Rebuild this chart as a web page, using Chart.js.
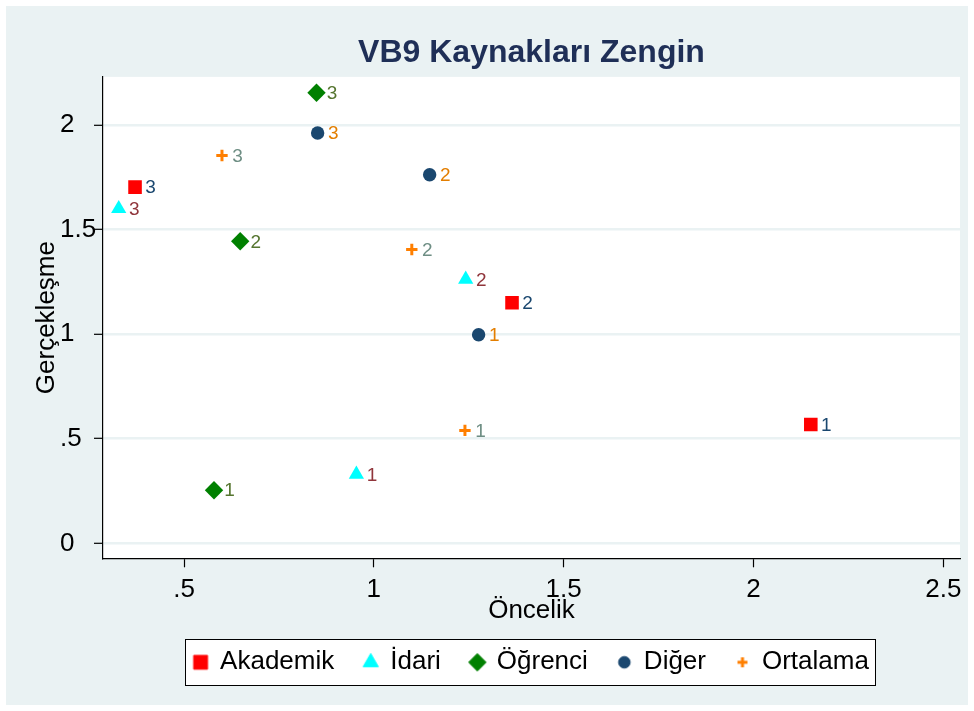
<!DOCTYPE html>
<html>
<head>
<meta charset="utf-8">
<script src="https://cdn.jsdelivr.net/npm/chart.js@4.4.0/dist/chart.umd.min.js"></script>
<style>
    html, body { margin: 0; padding: 0; background: #ffffff; }
    #chart { display: block; }
</style>
</head>
<body>
<canvas id="chart" width="974" height="711"></canvas>
<script>
// values
const groupNames = ["Akademik", "İdari", "Öğrenci", "Diğer", "Ortalama"];
const pointLabels = ["1", "2", "3"];

const akademikX = [2.151, 1.364, 0.371];
const akademikY = [0.568, 1.150, 1.703];
const idariX = [0.954, 1.242, 0.328];
const idariY = [0.330, 1.262, 1.600];
const ogrenciX = [0.579, 0.648, 0.849];
const ogrenciY = [0.254, 1.444, 2.154];
const digerX = [1.276, 1.147, 0.852];
const digerY = [0.997, 1.762, 1.962];
const ortalamaX = [1.240, 1.100, 0.600];
const ortalamaY = [0.540, 1.405, 1.854];

const xTickValues = [0.5, 1, 1.5, 2, 2.5];
const xTickLabels = [".5", "1", "1.5", "2", "2.5"];
const yTickValues = [0, 0.5, 1, 1.5, 2];
const yTickLabels = ["0", ".5", "1", "1.5", "2"];

const FONT = "'Liberation Sans', Arial, Helvetica, sans-serif";
const BG = "#eaf2f3";

const styles = [
    { pointStyle: "rect", color: "#ff0000", label: "#1a476f", radius: 9.6, legendRadius: 9.8, border: 0 },
    { pointStyle: "triangle", color: "#00ffff", label: "#90353b", radius: 8.8, legendRadius: 8.8, border: 0 },
    { pointStyle: "rectRot", color: "#008000", label: "#55752f", radius: 9.2, legendRadius: 8.7, border: 0 },
    { pointStyle: "circle", color: "#1a476f", label: "#e37e00", radius: 6.7, legendRadius: 5.8, border: 0 },
    { pointStyle: "cross", color: "#ff7f00", label: "#6e8e84", radius: 5.7, legendRadius: 5, border: 3 }
];

function toPoints(xs, ys) {
    return xs.map((x, i) => ({ x: x, y: ys[i] }));
}

const seriesData = [
    toPoints(akademikX, akademikY),
    toPoints(idariX, idariY),
    toPoints(ogrenciX, ogrenciY),
    toPoints(digerX, digerY),
    toPoints(ortalamaX, ortalamaY)
];

// small marker pictures for the legend (same chart.js point drawing, other size)
function legendIcon(s) {
    if (!Chart.helpers || !Chart.helpers.drawPoint) return s.pointStyle;
    const size = Math.ceil(2 * s.legendRadius + 6);
    const c = document.createElement("canvas");
    c.width = size;
    c.height = size;
    const cx = c.getContext("2d");
    cx.fillStyle = s.color;
    cx.strokeStyle = s.color;
    cx.lineWidth = s.border || 1;
    Chart.helpers.drawPoint(cx, { pointStyle: s.pointStyle, radius: s.legendRadius, rotation: 0, borderWidth: s.border || 0.01 }, size / 2, size / 2);
    return c;
}

const backgroundPlugin = {
    id: "stataBackground",
    beforeDraw(chart) {
        const ctx = chart.ctx;
        const a = chart.chartArea;
        ctx.save();
        ctx.fillStyle = "#ffffff";
        ctx.fillRect(0, 0, chart.width, chart.height);
        ctx.fillStyle = BG;
        ctx.fillRect(6, 6, chart.width - 12, chart.height - 12);
        ctx.fillStyle = "#ffffff";
        ctx.fillRect(a.left, a.top, a.right - a.left, a.bottom - a.top);
        // frame round the legend
        const boxes = chart.legend && chart.legend.legendHitBoxes;
        if (boxes && boxes.length) {
            const first = boxes[0];
            const last = boxes[boxes.length - 1];
            const cy = first.top + first.height / 2;
            const x0 = first.left - 9;
            const x1 = last.left + last.width + 6;
            ctx.fillRect(x0, cy - 23, x1 - x0, 46);
            ctx.strokeStyle = "#000000";
            ctx.lineWidth = 1;
            ctx.strokeRect(Math.round(x0) + 0.5, Math.round(cy - 23) + 0.5, Math.round(x1 - x0), 46);
        }
        ctx.restore();
    }
};

const pointLabelPlugin = {
    id: "pointLabels",
    afterDatasetsDraw(chart) {
        const ctx = chart.ctx;
        ctx.save();
        ctx.font = "19px " + FONT;
        ctx.textAlign = "left";
        ctx.textBaseline = "middle";
        chart.data.datasets.forEach((ds, d) => {
            const meta = chart.getDatasetMeta(d);
            ctx.fillStyle = styles[d].label;
            meta.data.forEach((el, i) => {
                ctx.fillText(pointLabels[i], el.x + 10.3, el.y + 1);
            });
        });
        ctx.restore();
    }
};

const ctx = document.getElementById("chart").getContext("2d");

new Chart(ctx, {
    type: "scatter",
    data: {
        datasets: groupNames.map((name, d) => ({
            label: name,
            data: seriesData[d],
            pointStyle: styles[d].pointStyle,
            pointRadius: styles[d].radius,
            backgroundColor: styles[d].color,
            borderColor: styles[d].color,
            borderWidth: styles[d].border
        }))
    },
    options: {
        responsive: false,
        animation: false,
        events: [],
        layout: {
            padding: { left: 60, right: 14, top: 6, bottom: 25.7 }
        },
        plugins: {
            tooltip: { enabled: false },
            title: {
                display: true,
                fullSize: false,
                text: "VB9 Kaynakları Zengin",
                color: "#1f2f57",
                font: { family: FONT, size: 32, weight: "bold", lineHeight: 1.2 },
                padding: { top: 28, bottom: 4.5 }
            },
            legend: {
                position: "bottom",
                fullSize: false,
                labels: {
                    usePointStyle: true,
                    boxWidth: 13,
                    boxHeight: 13,
                    padding: 30,
                    color: "#000000",
                    font: { family: FONT, size: 26, lineHeight: 1 },
                    generateLabels(chart) {
                        return chart.data.datasets.map((ds, d) => ({
                            text: ds.label,
                            pointStyle: legendIcon(styles[d]),
                            fillStyle: styles[d].color,
                            strokeStyle: styles[d].color,
                            lineWidth: 0,
                            fontColor: "#000000",
                            hidden: false,
                            datasetIndex: d
                        }));
                    }
                }
            }
        },
        scales: {
            x: {
                type: "linear",
                min: 0.2866,
                max: 2.544,
                afterBuildTicks(scale) {
                    scale.ticks = xTickValues.map(v => ({ value: v }));
                },
                afterFit(scale) {
                    scale.height = 61;
                },
                ticks: {
                    color: "#000000",
                    padding: 9.2,
                    maxRotation: 0,
                    autoSkip: false,
                    font: { family: FONT, size: 26, lineHeight: 1 },
                    callback: v => xTickLabels[xTickValues.indexOf(v)]
                },
                grid: {
                    drawOnChartArea: false,
                    drawTicks: true,
                    tickLength: 9,
                    tickColor: "#000000",
                    tickWidth: 1.2
                },
                border: { display: true, color: "#000000", width: 1.2 },
                title: {
                    display: true,
                    text: "Öncelik",
                    color: "#000000",
                    font: { family: FONT, size: 26, lineHeight: 1 },
                    padding: { top: 0, bottom: -5 }
                }
            },
            y: {
                type: "linear",
                min: -0.0714,
                max: 2.230,
                afterBuildTicks(scale) {
                    scale.ticks = yTickValues.map(v => ({ value: v }));
                },
                afterFit(scale) {
                    scale.width = 43;
                },
                ticks: {
                    color: "#000000",
                    crossAlign: "far",
                    autoSkip: false,
                    font: { family: FONT, size: 26, lineHeight: 1 },
                    callback: v => yTickLabels[yTickValues.indexOf(v)]
                },
                grid: {
                    color: BG,
                    lineWidth: 2.6,
                    drawTicks: true,
                    tickLength: 9,
                    tickColor: "#000000",
                    tickWidth: 1.2
                },
                border: { display: true, color: "#000000", width: 1.2 },
                title: {
                    display: true,
                    text: "Gerçekleşme",
                    color: "#000000",
                    font: { family: FONT, size: 26, lineHeight: 1 },
                    padding: { top: -26.3, bottom: 0 }
                }
            }
        }
    },
    plugins: [backgroundPlugin, pointLabelPlugin]
});
</script>
</body>
</html>
